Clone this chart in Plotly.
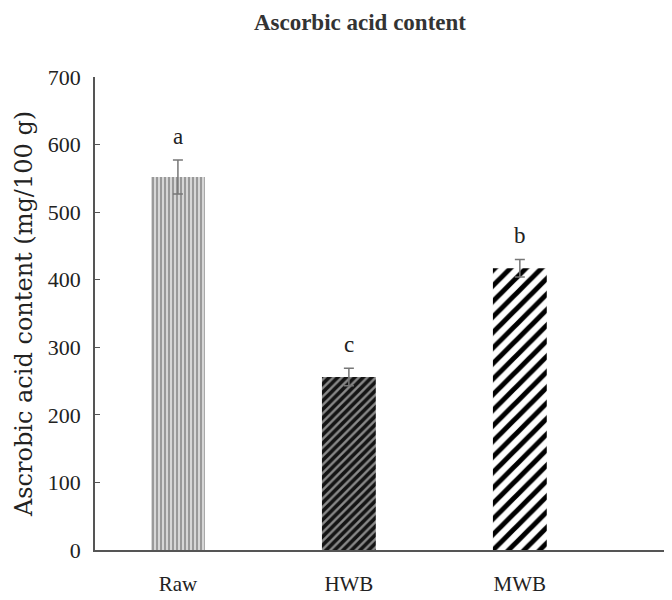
import plotly.graph_objects as go

categories = ["Raw", "HWB", "MWB"]
values = [552, 256, 417]
errors = [25, 13, 13]
letters = ["a", "c", "b"]
y_ticks = [0, 100, 200, 300, 400, 500, 600, 700]

patterns = [
    dict(shape="|", fgcolor="#999999", bgcolor="#d6d6d6", size=4, solidity=0.5, fgopacity=1),
    dict(shape="/", fgcolor="#141414", bgcolor="#8a8a8a", size=6, solidity=0.6, fgopacity=1),
    dict(shape="/", fgcolor="#000000", bgcolor="white", size=11, solidity=0.45, fgopacity=1),
]

SERIF = "Liberation Serif"

fig = go.Figure()
for i, c in enumerate(categories):
    fig.add_trace(go.Bar(
        x=[i], y=[values[i]], width=0.315,
        marker=dict(color="white", line=dict(width=0), pattern=patterns[i]),
        error_y=dict(type="data", array=[errors[i]], color="#777777", thickness=1.5, width=5),
        showlegend=False,
    ))
    fig.add_annotation(x=i, y=values[i] + errors[i], text=letters[i], showarrow=False,
                       yanchor="bottom", yshift=9,
                       font=dict(family=SERIF, size=23, color="#222"))

# page body has an 8px default margin: size the figure to fit the 672x600 window
fig.update_layout(
    width=664, height=592,
    margin=dict(l=87, r=0, t=69, b=50, autoexpand=False),
    plot_bgcolor="white", paper_bgcolor="white",
    title=dict(text="<b>Ascorbic acid content</b>", x=0.53, xanchor="center", y=0.976, yanchor="middle",
               font=dict(family=SERIF, size=23, color="#333")),
    font=dict(family=SERIF, color="#222"),
)
fig.update_xaxes(
    tickmode="array", tickvals=[0, 1, 2], ticktext=categories, automargin=False,
    range=[-0.485, 2.89], showline=True, linecolor="#555", linewidth=1.5,
    ticks="", showgrid=False, zeroline=False,
    tickfont=dict(family=SERIF, size=21, color="#222"), ticklabelstandoff=14,
)
fig.update_yaxes(
    range=[0, 700], tickvals=y_ticks, showline=True, linecolor="#555", linewidth=1.5, automargin=False,
    ticks="inside", ticklen=5, tickcolor="#555", showgrid=False, zeroline=False,
    tickfont=dict(family=SERIF, size=22, color="#222"), ticklabelstandoff=8,
    title=dict(text="Ascrobic acid content (mg/100 g)", font=dict(family="DejaVu Serif", size=24, color="#222"), standoff=8),
)
fig.write_html("out.html")
